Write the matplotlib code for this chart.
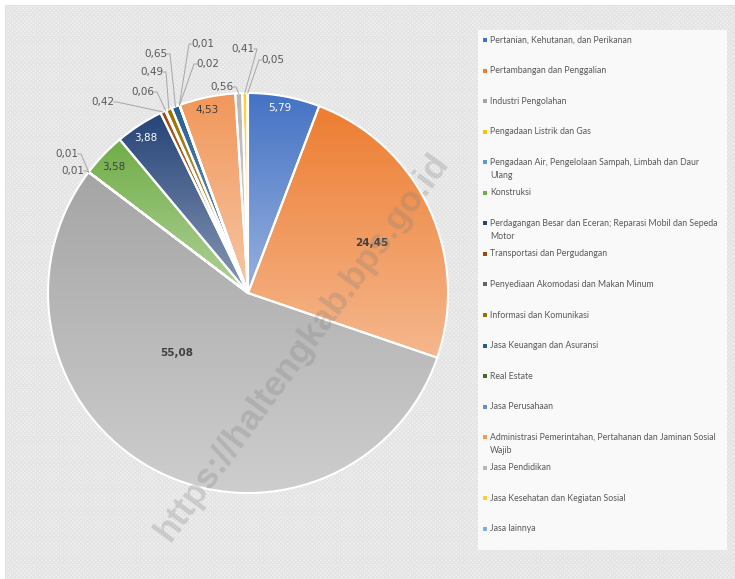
import numpy as np
import matplotlib
matplotlib.use("Agg")
import matplotlib.pyplot as plt
from matplotlib.colors import LinearSegmentedColormap, to_rgb
from matplotlib.patches import Rectangle

# Sektor lapangan usaha (urutan searah jarum jam dari atas)
sektor = [
    "Pertanian, Kehutanan, dan Perikanan",
    "Pertambangan dan Penggalian",
    "Industri Pengolahan",
    "Pengadaan Listrik dan Gas",
    "Pengadaan Air, Pengelolaan Sampah, Limbah dan Daur\nUlang",
    "Konstruksi",
    "Perdagangan Besar dan Eceran; Reparasi Mobil dan Sepeda\nMotor",
    "Transportasi dan Pergudangan",
    "Penyediaan Akomodasi dan Makan Minum",
    "Informasi dan Komunikasi",
    "Jasa Keuangan dan Asuransi",
    "Real Estate",
    "Jasa Perusahaan",
    "Administrasi Pemerintahan, Pertahanan dan Jaminan Sosial\nWajib",
    "Jasa Pendidikan",
    "Jasa Kesehatan dan Kegiatan Sosial",
    "Jasa lainnya",
]
nilai = [5.79, 24.45, 55.08, 0.01, 0.01, 3.58, 3.88, 0.42, 0.06, 0.49,
         0.65, 0.01, 0.02, 4.53, 0.56, 0.41, 0.05]
warna = ["#4472C4", "#ED7D31", "#A5A5A5", "#FFC000", "#5B9BD5", "#70AD47",
         "#264478", "#9E480E", "#636363", "#997300", "#255E91", "#43682B",
         "#698ED0", "#F1975A", "#B7B7B7", "#FFCD33", "#7CAFDD"]

W, H = 735, 579
fig = plt.figure(figsize=(W / 100, H / 100), dpi=100)
ax = fig.add_axes([0, 0, 1, 1])


def py(y):
    # piksel dari atas -> koordinat data
    return H - y


# latar belakang area grafik
ax.add_patch(Rectangle((5, 0), W, H - 5, facecolor="#F2F2F2", edgecolor="#D9D9D9",
                       lw=0.8, zorder=0))
ax.add_patch(Rectangle((5, 0), W, H - 5, facecolor="none", edgecolor="#E4E4E4",
                       hatch="xxxxxxxx", lw=0, zorder=0.1))

cx, cy, R = 248, py(293), 200
wedges, _ = ax.pie(nilai, colors=warna, startangle=90, counterclock=False,
                   center=(cx, cy), radius=R,
                   wedgeprops=dict(edgecolor="white", linewidth=1.5))

# gradien vertikal tiap irisan (gelap di atas, lebih terang di bawah)
grad = np.linspace(0, 1, 256).reshape(-1, 1)
for w, c in zip(wedges, warna):
    c = np.array(to_rgb(c))
    light = c + (1 - c) * 0.45
    cmap = LinearSegmentedColormap.from_list("g", [c, light])
    ext = w.get_path().get_extents()
    im = ax.imshow(grad, cmap=cmap, extent=[ext.x0, ext.x1, ext.y0, ext.y1],
                   origin="upper", aspect="auto", zorder=2, interpolation="bilinear")
    im.set_clip_path(w)
    w.set_facecolor("none")
    w.set_zorder(3)

# label di dalam irisan
dalam = {0: ((280, 108), "white", "normal"),
         1: ((372, 243), "#404040", "bold"),
         2: ((177, 353), "#404040", "bold"),
         5: ((114, 167), "#404040", "normal"),
         6: ((146, 138), "white", "normal"),
         13: ((207, 110), "#404040", "normal")}
for i, ((x, y), col, fw) in dalam.items():
    ax.text(x, py(y), f"{nilai[i]:.2f}".replace(".", ","), color=col, fontsize=7.5,
            fontweight=fw, ha="center", va="center", zorder=5)

# label luar dengan garis penunjuk
luar = {3: (73, 171), 4: (67, 154), 7: (103, 102), 8: (143, 92), 9: (152, 72),
        10: (156, 54), 11: (203, 44), 12: (208, 64), 14: (222, 87),
        15: (243, 49), 16: (273, 60)}
cum = np.cumsum([0] + nilai)
for i, (x, y) in luar.items():
    mid = 90 - 360 * (cum[i] + nilai[i] / 2) / 100
    ex = cx + R * np.cos(np.radians(mid))
    ey = cy + R * np.sin(np.radians(mid))
    ax.text(x, py(y), f"{nilai[i]:.2f}".replace(".", ","), color="#595959",
            fontsize=7.5, ha="center", va="center", zorder=5)
    if ex > x:
        sx = x + 11
        ax.plot([sx, sx + 3, ex], [py(y), py(y), ey], color="#A6A6A6", lw=0.7, zorder=4)
    else:
        sx = x - 11
        ax.plot([sx, sx - 3, ex], [py(y), py(y), ey], color="#A6A6A6", lw=0.7, zorder=4)

# legenda
ax.add_patch(Rectangle((478, py(550)), 249, 520, facecolor="#F9F9F9",
                       edgecolor="none", zorder=1))
for i, (s, c) in enumerate(zip(sektor, warna)):
    y = 40 + i * 30.56
    ax.add_patch(Rectangle((483, py(y) - 2), 4, 4, facecolor=c, edgecolor="none", zorder=5))
    ax.text(490, py(y) + 4.5, s, color="#595959", fontsize=6.3, family="Lato",
            ha="left", va="top", linespacing=1.55, zorder=5)

# watermark
ax.text(302, py(347), "https://haltengkab.bps.go.id", rotation=53.7, fontsize=25.5,
        fontweight="bold", family="Liberation Sans", color="#808080", alpha=0.28,
        ha="center", va="center", zorder=6)

ax.set_xlim(0, W)
ax.set_ylim(0, H)
ax.set_aspect("auto")
ax.axis("off")
fig.savefig("out.png", dpi=100, facecolor="white")
